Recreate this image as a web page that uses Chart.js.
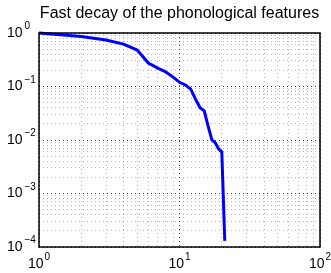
<!DOCTYPE html>
<html>
<head>
<meta charset="utf-8">
<script src="https://cdn.jsdelivr.net/npm/chart.js@4/dist/chart.umd.min.js"></script>
<style>
html,body{margin:0;padding:0;background:#fff;}
#c{display:block;}
</style>
</head>
<body>
<canvas id="c" width="331" height="273"></canvas>
<script>
const titleText = "Fast decay of the phonological features";
const featureIndex = [1,2,3,4,5,6,7,8,9,10,11,12,13,14,15,16,17,18,19,20,21];
const decayValues = [1, 0.86, 0.74, 0.62, 0.48, 0.275, 0.22, 0.187, 0.15, 0.12, 0.107, 0.090, 0.058, 0.040, 0.035, 0.018, 0.010, 0.0088, 0.0068, 0.0060, 0.00013];
const xTickExponents = [0, 1, 2];
const yTickExponents = [0, -1, -2, -3, -4];

const FONT = '"Liberation Sans", Arial, Helvetica, sans-serif';

function logTicks(minExp, maxExp) {
  const t = [];
  for (let e = minExp; e < maxExp; e++) {
    for (let m = 1; m <= 9; m++) t.push({value: m * Math.pow(10, e)});
  }
  t.push({value: Math.pow(10, maxExp)});
  return t;
}
function isDecade(v) {
  const l = Math.log10(v);
  return Math.abs(l - Math.round(l)) < 1e-9;
}

const matlabPlugin = {
  id: 'matlab',
  afterDraw(chart) {
    const ctx = chart.ctx;
    const a = chart.chartArea;
    const xs = chart.scales.x, ys = chart.scales.y;
    ctx.save();
    ctx.strokeStyle = '#000';
    ctx.lineWidth = 1.5;
    ctx.strokeRect(a.left, a.top, a.right - a.left, a.bottom - a.top);
    ctx.fillStyle = '#000';
    ctx.font = '16px ' + FONT;
    ctx.textAlign = 'center';
    ctx.textBaseline = 'middle';
    ctx.fillText(titleText, (a.left + a.right) / 2, 14);
    xTickExponents.forEach(e => {
      const px = xs.getPixelForValue(Math.pow(10, e));
      ctx.font = '14px ' + FONT;
      const wb = ctx.measureText('10').width;
      ctx.font = '10px ' + FONT;
      const we = ctx.measureText(String(e)).width;
      const start = px - (wb + 1 + we) / 2;
      ctx.textAlign = 'left';
      ctx.textBaseline = 'middle';
      ctx.font = '14px ' + FONT;
      ctx.fillText('10', start, 264);
      ctx.font = '10px ' + FONT;
      ctx.fillText(String(e), start + wb + 1, 257);
    });
    yTickExponents.forEach(e => {
      const py = ys.getPixelForValue(Math.pow(10, e));
      ctx.textAlign = 'left';
      ctx.textBaseline = 'middle';
      ctx.font = '14px ' + FONT;
      ctx.fillText('10', 7, py);
      ctx.font = '10px ' + FONT;
      ctx.fillText(e < 0 ? '\u2212' + Math.abs(e) : String(e), 24.5, py - 6.5);
    });
    ctx.restore();
  }
};

const gridColor = c => (c.tick && isDecade(c.tick.value)) ? 'rgba(0,0,0,0.75)' : 'rgba(0,0,0,0.28)';

new Chart(document.getElementById('c'), {
  type: 'line',
  data: {
    labels: featureIndex,
    datasets: [{
      data: featureIndex.map((x, i) => ({x: x, y: decayValues[i]})),
      borderColor: '#0000ff',
      borderWidth: 3,
      pointRadius: 0,
      tension: 0,
      fill: false,
      clip: false
    }]
  },
  options: {
    responsive: false,
    animation: false,
    devicePixelRatio: 1,
    layout: {padding: {left: 39, top: 33, right: 11, bottom: 26}},
    plugins: {legend: {display: false}, title: {display: false}, tooltip: {enabled: false}},
    scales: {
      x: {
        type: 'logarithmic', min: 1, max: 100,
        afterBuildTicks(s) { s.ticks = logTicks(0, 2); },
        ticks: {display: false},
        border: {display: false, dash: [1, 3]},
        grid: {drawTicks: false, tickLength: 0, color: gridColor, lineWidth: 1}
      },
      y: {
        type: 'logarithmic', min: 1e-4, max: 1,
        afterBuildTicks(s) { s.ticks = logTicks(-4, 0); },
        ticks: {display: false},
        border: {display: false, dash: [1, 3]},
        grid: {drawTicks: false, tickLength: 0, color: gridColor, lineWidth: 1}
      }
    }
  },
  plugins: [matlabPlugin]
});
</script>
</body>
</html>
